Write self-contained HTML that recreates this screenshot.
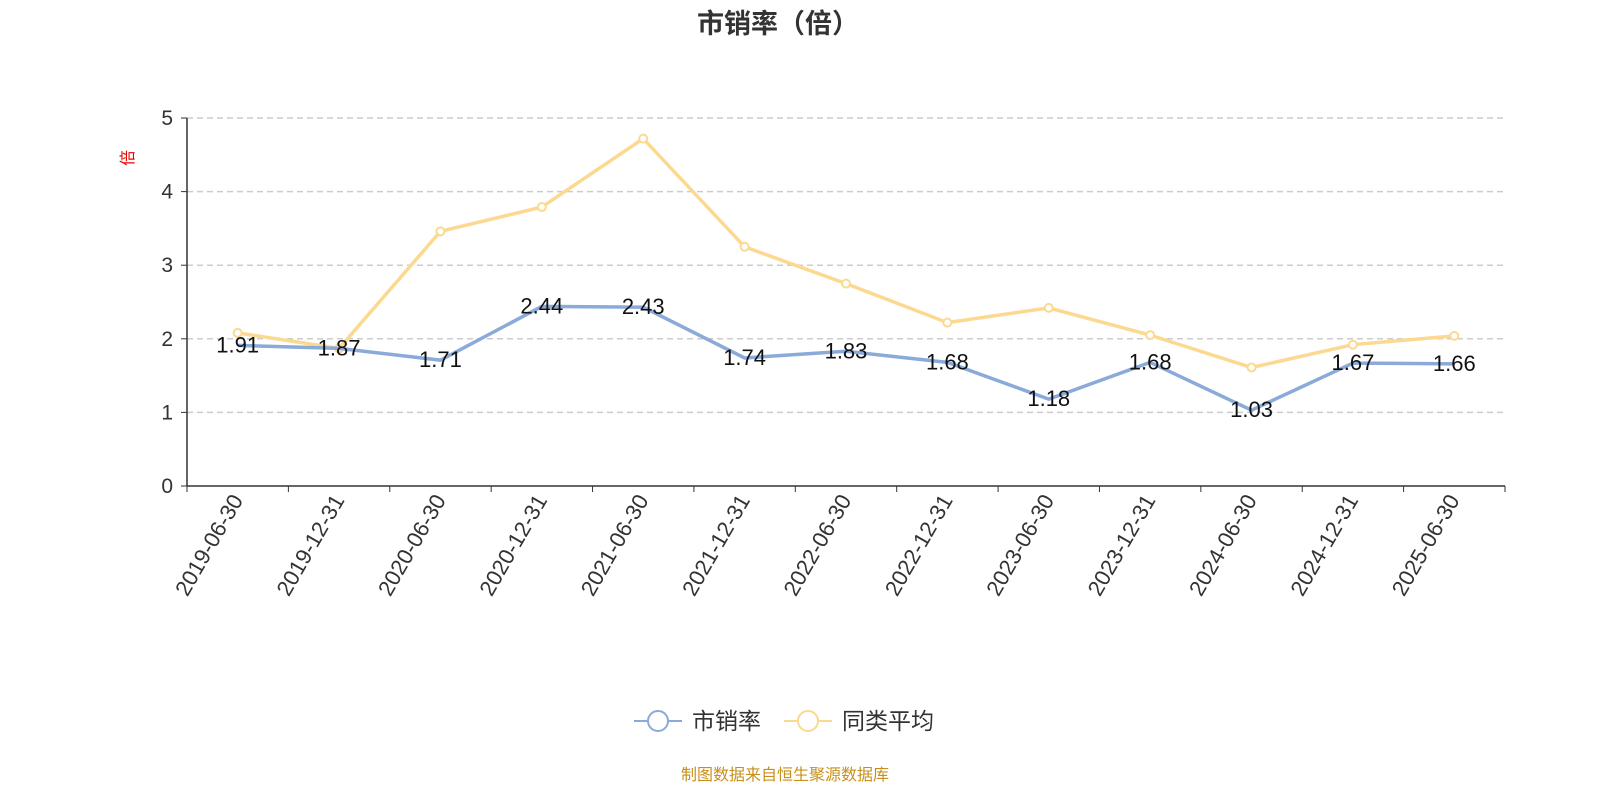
<!DOCTYPE html>
<html><head><meta charset="utf-8"><style>
body{margin:0;background:#fff;width:1600px;height:800px;overflow:hidden}
svg text{font-family:"Liberation Sans","Noto Sans CJK SC",sans-serif}
</style></head><body>
<svg id="chart" width="1600" height="800">
<text x="778" y="33" text-anchor="middle" font-size="27" font-weight="bold" fill="#333">市销率（倍）</text>
<text transform="translate(133,158) rotate(-90)" text-anchor="middle" font-size="16" fill="#e00">倍</text>
<g id="grid"></g><g id="axes"></g><g id="series"></g>
<g>
<g><line x1="634" y1="721" x2="682" y2="721" stroke="#8aaad9" stroke-width="2"/><circle cx="658" cy="721" r="10" fill="#fff" stroke="#8aaad9" stroke-width="2"/><text x="692" y="729" font-size="23" fill="#333">市销率</text></g>
<g><line x1="784" y1="721" x2="832" y2="721" stroke="#fcd990" stroke-width="2"/><circle cx="808" cy="721" r="10" fill="#fff" stroke="#fcd990" stroke-width="2"/><text x="842" y="729" font-size="23" fill="#333">同类平均</text></g>
</g>
<text x="785" y="780" text-anchor="middle" font-size="16" fill="#c8901a">制图数据来自恒生聚源数据库</text>
</svg>
<script>
const categories=["2019-06-30","2019-12-31","2020-06-30","2020-12-31","2021-06-30","2021-12-31","2022-06-30","2022-12-31","2023-06-30","2023-12-31","2024-06-30","2024-12-31","2025-06-30"];
const psValues=[1.91,1.87,1.71,2.44,2.43,1.74,1.83,1.68,1.18,1.68,1.03,1.67,1.66];
const avgValues=[2.08,1.87,3.46,3.79,4.72,3.25,2.75,2.22,2.42,2.05,1.61,1.92,2.04];
const yTicks=[0,1,2,3,4,5];
const NS="http://www.w3.org/2000/svg";
const X0=187,X1=1505,Y0=486,Y5=118;
const bw=(X1-X0)/categories.length;
const xs=i=>X0+bw*(i+0.5);
const ys=v=>Y0-(Y0-Y5)*v/5;
function mk(tag,attrs,parent,text){const e=document.createElementNS(NS,tag);for(const k in attrs)e.setAttribute(k,attrs[k]);if(text!=null)e.textContent=text;parent.appendChild(e);return e;}
const grid=document.getElementById('grid'),axes=document.getElementById('axes'),series=document.getElementById('series');
yTicks.forEach(t=>{
  if(t>0){const g=mk('line',{x1:X0,x2:X1,y1:ys(t),y2:ys(t),stroke:'#ccc','stroke-dasharray':'6,4','stroke-width':1.5},grid);
  
  }
  const tk=mk('line',{x1:X0-6,x2:X0,y1:ys(t),y2:ys(t),stroke:'#333'},axes);
  
  
  const l=mk('text',{x:X0-14,y:ys(t)+7,'text-anchor':'end','font-size':21,fill:'#333'},axes,String(t));
  
  
});
const ya=mk('line',{x1:X0,x2:X0,y1:Y5,y2:Y0,stroke:'#333','stroke-width':1.5},axes);


const xa=mk('line',{x1:X0,x2:X1,y1:Y0,y2:Y0,stroke:'#333','stroke-width':1.5},axes);


for(let i=0;i<=categories.length;i++){const tk=mk('line',{x1:X0+bw*i,x2:X0+bw*i,y1:Y0,y2:Y0+6,stroke:'#333'},axes);

}
categories.forEach((c,i)=>{const l=mk('text',{transform:`translate(${xs(i)+6},${Y0+14}) rotate(-60)`,'text-anchor':'end','font-size':22,fill:'#333'},axes,c);

});
function line(vals,color,name){const p=mk('polyline',{points:vals.map((v,i)=>xs(i)+','+ys(v)).join(' '),fill:'none',stroke:color,'stroke-width':3.5},series);

}
line(avgValues,'#fcd990','avg-line');
avgValues.forEach((v,i)=>{const c=mk('circle',{cx:xs(i),cy:ys(v),r:4,fill:'#fff',stroke:'#fcd990','stroke-width':2},series);

});
line(psValues,'#8aaad9','ps-line');
psValues.forEach((v,i)=>{const t=mk('text',{x:xs(i),y:ys(v)+7,'text-anchor':'middle','font-size':22,fill:'#111'},series,v.toFixed(2));

});
</script>
</body></html>
